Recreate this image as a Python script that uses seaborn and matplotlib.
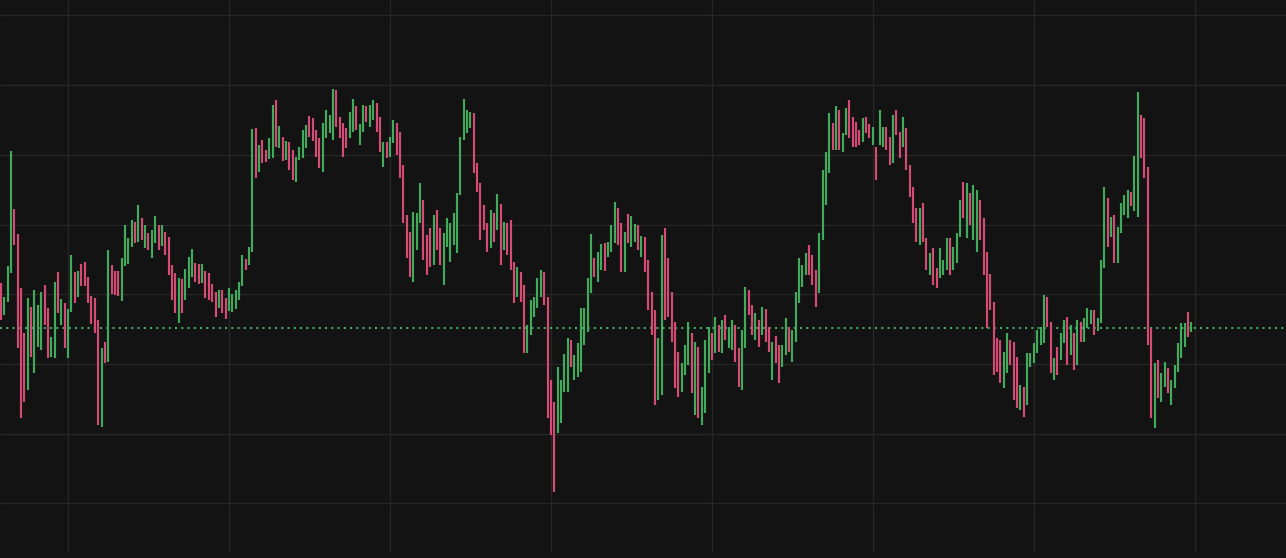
import numpy as np
import pandas as pd
import matplotlib
matplotlib.use("Agg")
import matplotlib.pyplot as plt
import seaborn as sns

# ---- data: bar highs / lows (price units), direction of each bar ----
highs = [290,276,307,422,364,339,285,240,275,266, 283,268,281,288,265,236,291,301,274,270,
         264,318,301,302,309,311,296,277,275,253, 225,231,323,308,302,302,315,348,335,353,
         351,368,355,348,340,343,357,348,348,341, 336,308,300,295,294,304,316,324,310,309,
         309,302,300,289,281,283,283,275,285,279, 283,291,318,314,326,444,445,428,433,423,
         435,468,473,447,436,432,431,423,416,426, 443,448,457,455,443,435,450,463,458,484,
         483,456,450,445,461,474,467,449,468,467, 468,473,470,456,431,431,436,453,450,441,
         408,358,341,361,360,390,373,338,345,358, 363,345,340,355,350,360,380,436,474,463,
         461,460,410,390,368,350,363,360,379,369, 351,350,353,311,306,301,288,248,273,276,
         295,303,301,276,193,171,206,193,219,235, 233,218,230,265,265,295,339,315,321,329,
         330,331,348,371,365,350,341,359,357,349, 348,337,336,313,281,263,235,338,345,315,
         281,251,221,210,228,251,240,231,226,186, 233,246,240,256,248,253,258,246,253,248,
         225,243,286,283,268,260,253,266,264,246, 231,237,228,228,255,246,243,281,315,308,
         320,328,318,303,340,403,421,460,450,467, 463,440,465,473,456,451,443,455,456,449,
         446,426,463,446,446,436,458,463,441,456, 445,408,386,365,365,370,335,320,325,305,
         325,313,335,335,326,340,373,391,390,380, 388,383,373,355,321,299,271,235,233,221,
         240,233,231,216,188,186,220,220,230,243, 246,278,276,251,215,226,240,253,256,248,
         240,253,251,255,265,263,263,255,313,386, 375,356,358,346,370,378,383,381,417,481,
         458,455,406,245,210,213,200,211,205,193, 208,230,250,250,261,251]

lows = [253,258,271,300,328,225,155,171,183,216, 200,226,223,248,215,216,215,260,248,225,
        215,261,270,276,287,287,270,249,240,148, 146,210,211,279,278,277,272,307,309,326,
        330,331,333,325,323,315,330,323,327,318, 298,273,260,250,260,273,285,296,291,289,
        290,275,273,271,256,265,260,254,262,261, 264,273,287,303,308,321,395,401,410,411,
        414,415,426,425,412,413,403,393,391,413, 415,425,436,432,416,405,401,435,440,433,
        446,435,416,425,435,441,443,428,441,451, 446,453,441,421,406,415,416,430,418,395,
        350,315,296,291,323,350,313,298,306,308, 323,308,288,326,311,328,320,378,433,440,
        445,400,381,333,343,321,325,331,343,308, 323,318,303,270,276,271,220,220,238,256,
        265,276,268,155,138,81,140,150,181,181, 206,193,196,201,228,241,280,296,291,303,
        302,316,321,330,328,301,301,330,326,331, 323,316,301,263,238,168,173,178,253,256,
        231,185,176,181,198,208,180,158,155,148, 160,200,213,220,221,220,233,225,223,211,
        186,183,225,258,238,233,226,238,231,221, 193,210,190,206,218,221,211,231,270,286,
        298,298,288,266,280,333,368,400,423,423, 423,421,438,435,426,426,428,431,440,435,
        428,393,428,426,423,408,410,438,415,426, 403,376,350,331,328,331,303,298,288,285,
        295,298,303,298,303,310,336,355,335,348, 333,321,333,298,245,263,198,201,190,185,
        200,208,173,165,163,156,168,206,210,220, 228,230,246,200,193,198,213,230,208,218,
        203,208,231,231,245,249,238,242,250,305, 326,336,310,310,340,358,355,367,362,356,
        415,395,228,155,145,175,171,186,180,168, 185,201,215,226,236,241]

direction = ("duuuddddud" "uuudduudud" "uududddddd" "ududdduuuu" "dududuudud"
             "ddduduuudd" "uddddudduu" "uuuduududd" "uudududduu" "uudddduuuu"
             "dddduuduud" "uudduduudd" "ddduuudddu" "dduuuuuuuu" "udddddudud"
             "udddudduuu" "uudddduuuu" "duuuuuuduu" "duuudduduu" "dudddduudd"
             "ddduuududu" "uudududuud" "duuddududd" "udduuduuuu" "uddduuuudu"
             "duuddddudd" "uduudduddu" "dddduddudd" "uuuduuudud" "uudddddddu"
             "uddduduuuu" "uudduduudu" "duduuuduuu" "duduuuuduu" "dddduduudu"
             "uuuudu")

last_close = 245.3
grid_first_bar = 20
grid_bar_step = 48
grid_price_step = 69.7

# ---- styling ----
BG = "#131313"
GRID = "#262626"
GREEN = "#42aa5c"
PINK = "#d44c74"

n = len(highs)
df = pd.DataFrame({
    "bar": np.repeat(np.arange(n), 2),
    "price": np.column_stack([highs, lows]).ravel(),
    "move": np.repeat(["up" if c == "u" else "down" for c in direction], 2),
})

sns.set_theme(style="dark", rc={
    "axes.facecolor": BG, "figure.facecolor": BG,
    "lines.solid_capstyle": "butt",
})

fig = plt.figure(figsize=(12.86, 5.58), dpi=100, facecolor=BG)
ax = fig.add_axes([0, 6 / 558, 1, 552 / 558])
ax.set_facecolor(BG)

ax.axhline(last_close, color=GREEN, ls=(0, (1, 2)), lw=1.5, zorder=1)

sns.lineplot(data=df, x="bar", y="price", hue="move", units="bar",
             estimator=None, sort=False,
             palette={"up": GREEN, "down": PINK},
             linewidth=1.55, legend=False, ax=ax, zorder=2)

ax.set_xlim(-0.27, 383.2)
ax.set_ylim(21, 573)
ax.set_xticks(np.arange(grid_first_bar, 400, grid_bar_step))
ax.set_yticks(np.arange(1, 9) * grid_price_step)
ax.grid(True, color=GRID, lw=1.0)
ax.set_axisbelow(True)
ax.tick_params(length=0, labelbottom=False, labelleft=False)
ax.set_xlabel("")
ax.set_ylabel("")
for s in ax.spines.values():
    s.set_visible(False)

fig.savefig("out.png", dpi=100, facecolor=BG)
